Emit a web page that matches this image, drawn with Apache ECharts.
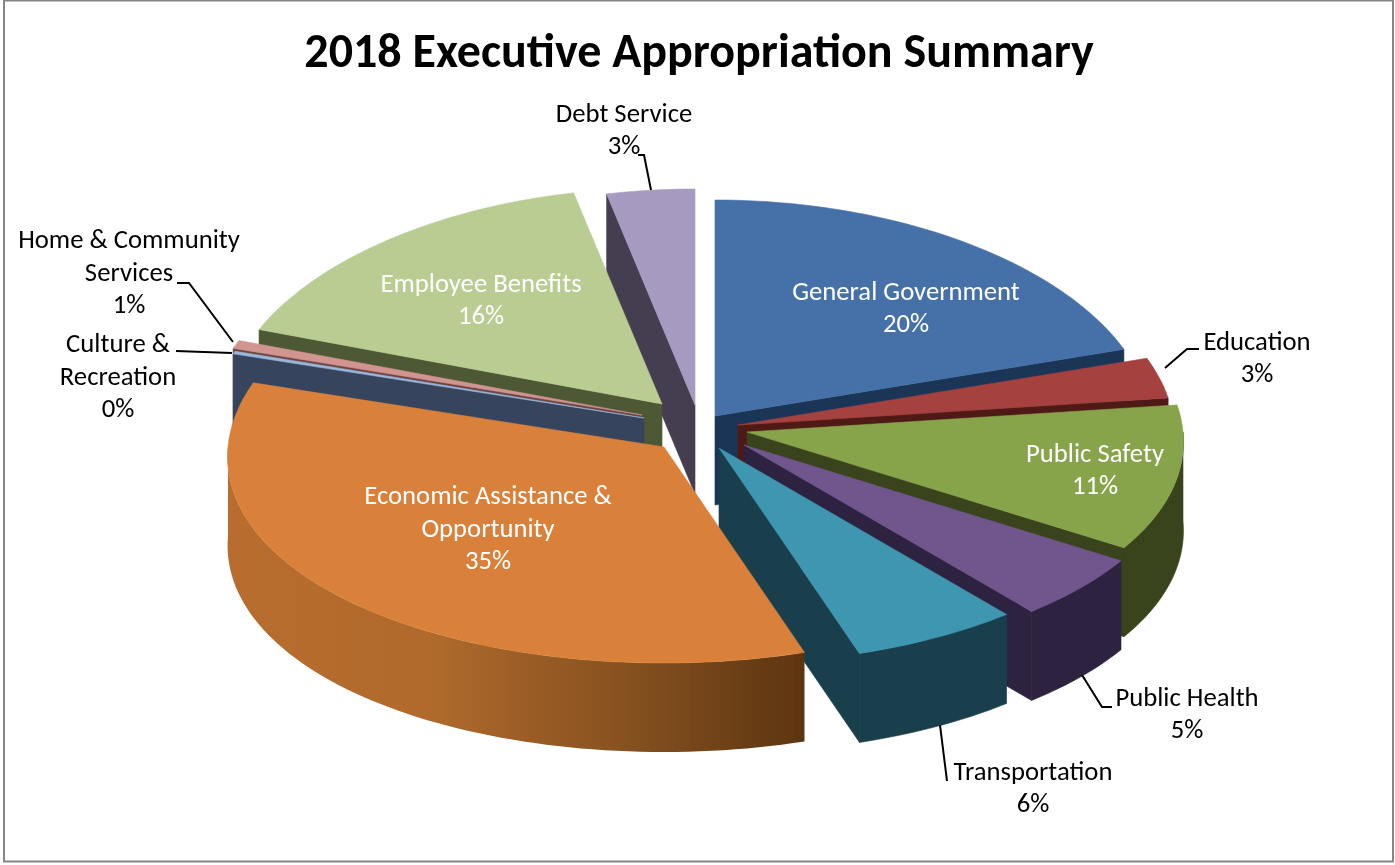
<!DOCTYPE html>
<html><head><meta charset="utf-8">
<style>html,body{margin:0;padding:0;background:#fff}#c{width:1395px;height:865px}</style>
<script src="https://cdn.jsdelivr.net/npm/echarts@6/dist/echarts.min.js"></script>
</head><body><div id="c"></div>
<script>
// ---- data ----
const categories = ['General Government','Education','Public Safety','Public Health','Transportation','Economic Assistance &\nOpportunity','Culture &\nRecreation','Home & Community\nServices','Employee Benefits','Debt Service'];
const values = [20, 3, 11, 5, 6, 34.8, 0.2, 0.6, 16, 3.4];
// ---- style ----
const topColors = ['#4671a8','#a5423f','#88a44b','#71568e','#3f96b0','#d9813b','#9ab8dc','#d29491','#b9cd92','#a69ac0'];
const wallColors = ['#1a3556','#4f1a16','#39431c','#2d2340','#1a3f4c','#7a4a20','#37445e','#6b4644','#4d5834','#453d50'];
const insideLabel = [true,false,true,false,false,true,false,false,true,false];
// ---- layout ----
const centre = [690, 430], rx = 436, ry = 216, depth = 89, perspective = 0.045;
const explode = [[25,-14],[48,-5],[57,2],[54,15],[29,18],[-26,17],[-46,-12],[-48,-15],[-28,-26],[5,-25]];
const paintOrder = [9,0,8,7,6,1,2,3,4,5];
const labelPos = [[906,309],[1257,359],[1095,471],[1187,715],[1033,789],[488,530],[118,378],[129,274],[481,301],[624,131]];
const leaderLines = [null,[[1165,368],[1187,349],[1199,349]],null,[[1082,675],[1102,707],[1112,707]],[[940,725],[947,781]],null,[[232,353],[176,351]],[[233,342],[189,283],[177,283]],null,[[651,190],[644,155],[638,155]]];

const total = values.reduce((a,b)=>a+b,0);
const rad = d => d*Math.PI/180;
let acc = 0;
const spans = values.map(v => { const s = acc/total*360; acc += v; return [s, acc/total*360]; });

function rimPoint(i, deg, drop) {
  const a = rad(deg), k = 1 - perspective*Math.cos(a);
  return [centre[0]+explode[i][0]+rx*k*Math.sin(a), centre[1]+explode[i][1]-ry*Math.cos(a)+drop];
}
function apex(i, drop) { return [centre[0]+explode[i][0], centre[1]+explode[i][1]+drop]; }
function arc(i, a0, a1, drop) {
  const pts = [], n = Math.max(2, Math.ceil((a1-a0)/1.5));
  for (let k=0;k<=n;k++) pts.push(rimPoint(i, a0+(a1-a0)*k/n, drop));
  return pts;
}
function poly(points, fill) {
  return {type:'polygon', shape:{points}, style:{fill, stroke:(typeof fill==='string')?fill:'none', lineWidth:0.6}};
}
function renderSlice(params) {
  const i = paintOrder[params.dataIndex];
  const [a0,a1] = spans[i];
  const kids = [];
  const wall = wallColors[i];
  if (Math.sin(rad(a1)) > 0.001) kids.push(poly([apex(i,0),rimPoint(i,a1,0),rimPoint(i,a1,depth),apex(i,depth)], wall));
  if (Math.sin(rad(a0)) < -0.001) kids.push(poly([apex(i,0),rimPoint(i,a0,0),rimPoint(i,a0,depth),apex(i,depth)], wall));
  const f0 = Math.max(a0,90), f1 = Math.min(a1,270);
  if (f1 > f0) {
    const upper = arc(i,f0,f1,0), lower = arc(i,f0,f1,depth).reverse();
    const fill = i===5 ? new echarts.graphic.LinearGradient(0,0,1,0,[
      {offset:0,color:'#b86d2e'},{offset:0.35,color:'#b06a2c'},{offset:0.7,color:'#85501f'},{offset:1,color:'#5c3510'}]) : wall;
    kids.push(poly(upper.concat(lower), fill));
  }
  kids.push(poly([apex(i,0)].concat(arc(i,a0,a1,0)), topColors[i]));
  return {type:'group', children:kids};
}
function renderLabel(params) {
  const i = params.dataIndex, kids = [];
  if (leaderLines[i]) kids.push({type:'polyline', shape:{points:leaderLines[i]}, style:{stroke:'#000', lineWidth:2, fill:'none'}});
  kids.push({type:'text', style:{x:labelPos[i][0], y:labelPos[i][1], text:categories[i]+'\n'+Math.round(values[i]/total*100)+'%',
    fill:insideLabel[i]?'#fff':'#000', font:'26.7px Carlito, Lato', align:'center', verticalAlign:'middle', lineHeight:32.3}});
  return {type:'group', children:kids};
}
const chart = echarts.init(document.getElementById('c'), null, {renderer:'canvas'});
chart.setOption({
  animation:false,
  backgroundColor:'#fff',
  title:{text:'2018 Executive Appropriation Summary', left:694, top:26, textAlign:'center',
    textStyle:{fontFamily:'Carlito, Lato', fontWeight:'bold', fontSize:48, color:'#000'}},
  graphic:[{type:'rect', shape:{x:4,y:0.5,width:1389,height:861}, style:{fill:'none',stroke:'#868686',lineWidth:2}, silent:true}],
  series:[
    {type:'custom', coordinateSystem:'none', renderItem:renderSlice, data:paintOrder.map(i=>values[i]), silent:true},
    {type:'custom', coordinateSystem:'none', renderItem:renderLabel, data:values, silent:true, z:5}
  ]
});
</script></body></html>
